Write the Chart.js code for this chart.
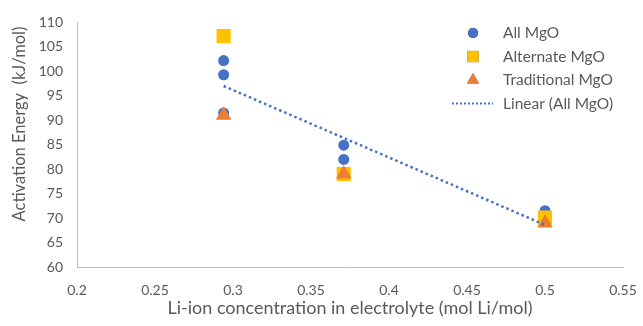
<!DOCTYPE html>
<html lang="en">
<head>
    <meta charset="UTF-8">
    <title>Activation Energy vs Li-ion concentration</title>
    <style>
        body { margin: 0; background: #fff; }
    </style>
</head>
<body>

    <div>
        <canvas id="myChart" width="643" height="326"></canvas>
    </div>

    <script src="https://cdn.jsdelivr.net/npm/chart.js"></script>
    <script>
        // values
        const allX = [0.294, 0.294, 0.294, 0.371, 0.371, 0.5];
        const allY = [102.2, 99.3, 91.5, 84.9, 82.0, 71.5];
        const altX = [0.294, 0.371, 0.5];
        const altY = [107.2, 79.0, 70.1];
        const tradX = [0.294, 0.371, 0.5];
        const tradY = [91.0, 79.0, 69.0];
        const trendX = [0.294, 0.5];
        const trendY = [97.0, 68.6];

        const seriesNames = ['All MgO', 'Alternate MgO', 'Traditional MgO', 'Linear (All MgO)'];
        const xTitle = 'Li-ion concentration in electrolyte (mol Li/mol)';
        const yTitle = 'Activation Energy  (kJ/mol)';

        const FONT = 'Lato, "Open Sans", sans-serif';
        const GREY = '#595959';

        function toPoints(xs, ys) {
            return xs.map((x, i) => ({ x: x, y: ys[i] }));
        }

        // legend + y title drawn by hand so they can sit inside the plot like in Excel
        const extras = {
            id: 'extras',
            afterDraw(chart) {
                const ctx = chart.ctx;
                ctx.save();
                ctx.fillStyle = GREY;
                ctx.font = '16.5px ' + FONT;
                ctx.textBaseline = 'middle';
                ctx.textAlign = 'center';
                ctx.translate(20, 124);
                ctx.rotate(-Math.PI / 2);
                ctx.fillText(yTitle, 0, 0);
                ctx.restore();

                ctx.save();
                const x0 = 473, y0 = 33, step = 23.5;
                chart.data.datasets.forEach((ds, i) => {
                    const y = y0 + i * step;
                    if (ds.showLine) {
                        ctx.strokeStyle = ds.borderColor;
                        ctx.lineWidth = 2;
                        ctx.setLineDash([2, 2]);
                        ctx.beginPath();
                        ctx.moveTo(x0 - 21, y);
                        ctx.lineTo(x0 + 20, y);
                        ctx.stroke();
                        ctx.setLineDash([]);
                    } else {
                        Chart.helpers.drawPoint(ctx, {
                            pointStyle: ds.pointStyle,
                            radius: ds.legendRadius,
                            borderWidth: 0
                        }, x0, y);
                        ctx.fillStyle = ds.backgroundColor;
                        ctx.fill();
                    }
                    ctx.fillStyle = GREY;
                    ctx.font = '15.5px ' + FONT;
                    ctx.textBaseline = 'middle';
                    ctx.textAlign = 'left';
                    ctx.fillText(ds.label, 503, y);
                });
                ctx.restore();
            }
        };

        const ctx = document.getElementById('myChart');
        const chart = new Chart(ctx, {
            type: 'scatter',
            data: {
                datasets: [{
                    label: seriesNames[0],
                    data: toPoints(allX, allY),
                    pointStyle: 'circle',
                    pointRadius: 5.5,
                    legendRadius: 5,
                    backgroundColor: '#4472C4',
                    borderColor: '#4472C4',
                    borderWidth: 0,
                    order: 3
                }, {
                    label: seriesNames[1],
                    data: toPoints(altX, altY),
                    pointStyle: 'rect',
                    pointRadius: 10,
                    legendRadius: 8,
                    backgroundColor: '#FFC000',
                    borderColor: '#FFC000',
                    borderWidth: 0,
                    order: 2
                }, {
                    label: seriesNames[2],
                    data: toPoints(tradX, tradY),
                    pointStyle: 'triangle',
                    pointRadius: 9,
                    legendRadius: 7,
                    backgroundColor: '#ED7D31',
                    borderColor: '#ED7D31',
                    borderWidth: 0,
                    order: 1
                }, {
                    label: seriesNames[3],
                    data: toPoints(trendX, trendY),
                    showLine: true,
                    pointRadius: 0,
                    borderColor: '#4472C4',
                    borderWidth: 2.5,
                    borderDash: [2.5, 3],
                    order: 0
                }]
            },
            options: {
                responsive: false,
                animation: false,
                layout: { padding: { left: 0, right: 20, top: 20, bottom: 0 } },
                plugins: {
                    legend: { display: false },
                    tooltip: { enabled: false }
                },
                scales: {
                    x: {
                        type: 'linear',
                        min: 0.2,
                        max: 0.55,
                        grid: { display: false, drawTicks: false },
                        border: { display: true, color: '#BFBFBF', width: 1 },
                        ticks: {
                            stepSize: 0.05,
                            color: GREY,
                            padding: 15,
                            font: { family: FONT, size: 14 },
                            callback: v => +v.toFixed(2)
                        },
                        title: {
                            display: true,
                            text: xTitle,
                            color: GREY,
                            font: { family: FONT, size: 18 },
                            padding: { top: 0, bottom: 7 }
                        },
                        afterFit(scale) {
                            scale.height = 59;
                            // tick padding would otherwise be added to the side overhang
                            scale.paddingLeft = 13;
                            scale.paddingRight = 13;
                        }
                    },
                    y: {
                        min: 60,
                        max: 110,
                        grid: { display: false, drawTicks: false },
                        border: { display: true, color: '#BFBFBF', width: 1 },
                        ticks: {
                            stepSize: 5,
                            color: GREY,
                            padding: 14,
                            font: { family: FONT, size: 14 }
                        },
                        afterFit(scale) { scale.width = 77; }
                    }
                }
            },
            plugins: [extras]
        });
    </script>

</body>
</html>
